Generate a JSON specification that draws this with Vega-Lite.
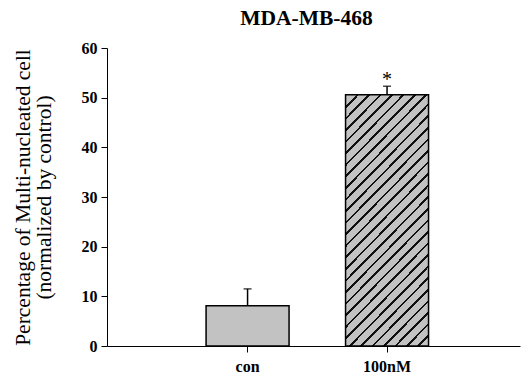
{
  "$schema": "https://vega.github.io/schema/vega-lite/v6.json",
  "width": 413,
  "height": 298,
  "autosize": {"type": "none"},
  "padding": {"left": 107, "top": 48, "right": 2, "bottom": 32},
  "background": "white",
  "title": {
    "text": "MDA-MB-468",
    "font": "Liberation Serif",
    "fontSize": 21.5,
    "fontWeight": "bold",
    "color": "black",
    "anchor": "middle",
    "dx": -7,
    "offset": 11
  },
  "data": {
    "values": [
      {"group": "con", "mean": 8.1, "upper": 11.5, "sig": ""},
      {"group": "100nM", "mean": 50.6, "upper": 52.3, "sig": "*"}
    ]
  },
  "config": {
    "view": {"stroke": null},
    "axis": {
      "domainColor": "black",
      "tickColor": "black",
      "labelColor": "black",
      "titleColor": "black",
      "grid": false
    }
  },
  "encoding": {
    "x": {
      "field": "group",
      "type": "nominal",
      "sort": ["con", "100nM"],
      "scale": {"paddingInner": 0.405, "paddingOuter": 0.683, "align": 0.52},
      "axis": {
        "title": null,
        "labelAngle": 0,
        "tickSize": 6,
        "labelPadding": 6,
        "domainWidth": 1,
        "labelFont": "Liberation Serif",
        "labelFontWeight": "bold",
        "labelFontSize": 16
      }
    }
  },
  "layer": [
    {
      "transform": [{"filter": "datum.group === 'con'"}],
      "mark": {"type": "bar", "fill": "#c2c2c2", "stroke": "black", "strokeWidth": 1.5},
      "encoding": {
        "y": {
          "field": "mean",
          "type": "quantitative",
          "scale": {"domain": [0, 60], "nice": false},
          "axis": {
            "title": ["Percentage of Multi-nucleated cell", "(normalized by control)"],
            "titleFont": "Liberation Serif",
            "titleFontWeight": "normal",
            "titleFontSize": 21.5,
            "titleLineHeight": 21,
            "titlePadding": 26,
            "values": [0, 10, 20, 30, 40, 50, 60],
            "tickSize": 6,
            "labelPadding": 4,
            "labelFont": "Liberation Serif",
            "labelFontWeight": "bold",
            "labelFontSize": 16
          }
        }
      }
    },
    {
      "transform": [{"filter": "datum.group === '100nM'"}],
      "mark": {
        "type": "bar",
        "stroke": "black",
        "strokeWidth": 1.5,
        "fill": {
          "gradient": "linear",
          "x1": 0, "y1": 0, "x2": 0.402, "y2": 1.2,
          "stops": [
            {"offset": 0, "color": "#c2c2c2"},
            {"offset": 0.0335, "color": "#c2c2c2"}, {"offset": 0.0335, "color": "#111111"}, {"offset": 0.0415, "color": "#111111"}, {"offset": 0.0415, "color": "#c2c2c2"},
            {"offset": 0.068, "color": "#c2c2c2"}, {"offset": 0.068, "color": "#111111"}, {"offset": 0.076, "color": "#111111"}, {"offset": 0.076, "color": "#c2c2c2"},
            {"offset": 0.1025, "color": "#c2c2c2"}, {"offset": 0.1025, "color": "#111111"}, {"offset": 0.1105, "color": "#111111"}, {"offset": 0.1105, "color": "#c2c2c2"},
            {"offset": 0.137, "color": "#c2c2c2"}, {"offset": 0.137, "color": "#111111"}, {"offset": 0.145, "color": "#111111"}, {"offset": 0.145, "color": "#c2c2c2"},
            {"offset": 0.1715, "color": "#c2c2c2"}, {"offset": 0.1715, "color": "#111111"}, {"offset": 0.1795, "color": "#111111"}, {"offset": 0.1795, "color": "#c2c2c2"},
            {"offset": 0.206, "color": "#c2c2c2"}, {"offset": 0.206, "color": "#111111"}, {"offset": 0.214, "color": "#111111"}, {"offset": 0.214, "color": "#c2c2c2"},
            {"offset": 0.2405, "color": "#c2c2c2"}, {"offset": 0.2405, "color": "#111111"}, {"offset": 0.2485, "color": "#111111"}, {"offset": 0.2485, "color": "#c2c2c2"},
            {"offset": 0.275, "color": "#c2c2c2"}, {"offset": 0.275, "color": "#111111"}, {"offset": 0.283, "color": "#111111"}, {"offset": 0.283, "color": "#c2c2c2"},
            {"offset": 0.3095, "color": "#c2c2c2"}, {"offset": 0.3095, "color": "#111111"}, {"offset": 0.3175, "color": "#111111"}, {"offset": 0.3175, "color": "#c2c2c2"},
            {"offset": 0.344, "color": "#c2c2c2"}, {"offset": 0.344, "color": "#111111"}, {"offset": 0.352, "color": "#111111"}, {"offset": 0.352, "color": "#c2c2c2"},
            {"offset": 0.3785, "color": "#c2c2c2"}, {"offset": 0.3785, "color": "#111111"}, {"offset": 0.3865, "color": "#111111"}, {"offset": 0.3865, "color": "#c2c2c2"},
            {"offset": 0.413, "color": "#c2c2c2"}, {"offset": 0.413, "color": "#111111"}, {"offset": 0.421, "color": "#111111"}, {"offset": 0.421, "color": "#c2c2c2"},
            {"offset": 0.4475, "color": "#c2c2c2"}, {"offset": 0.4475, "color": "#111111"}, {"offset": 0.4555, "color": "#111111"}, {"offset": 0.4555, "color": "#c2c2c2"},
            {"offset": 0.482, "color": "#c2c2c2"}, {"offset": 0.482, "color": "#111111"}, {"offset": 0.49, "color": "#111111"}, {"offset": 0.49, "color": "#c2c2c2"},
            {"offset": 0.5165, "color": "#c2c2c2"}, {"offset": 0.5165, "color": "#111111"}, {"offset": 0.5245, "color": "#111111"}, {"offset": 0.5245, "color": "#c2c2c2"},
            {"offset": 0.551, "color": "#c2c2c2"}, {"offset": 0.551, "color": "#111111"}, {"offset": 0.559, "color": "#111111"}, {"offset": 0.559, "color": "#c2c2c2"},
            {"offset": 0.5855, "color": "#c2c2c2"}, {"offset": 0.5855, "color": "#111111"}, {"offset": 0.5935, "color": "#111111"}, {"offset": 0.5935, "color": "#c2c2c2"},
            {"offset": 0.62, "color": "#c2c2c2"}, {"offset": 0.62, "color": "#111111"}, {"offset": 0.628, "color": "#111111"}, {"offset": 0.628, "color": "#c2c2c2"},
            {"offset": 0.6545, "color": "#c2c2c2"}, {"offset": 0.6545, "color": "#111111"}, {"offset": 0.6625, "color": "#111111"}, {"offset": 0.6625, "color": "#c2c2c2"},
            {"offset": 0.689, "color": "#c2c2c2"}, {"offset": 0.689, "color": "#111111"}, {"offset": 0.697, "color": "#111111"}, {"offset": 0.697, "color": "#c2c2c2"},
            {"offset": 0.7235, "color": "#c2c2c2"}, {"offset": 0.7235, "color": "#111111"}, {"offset": 0.7315, "color": "#111111"}, {"offset": 0.7315, "color": "#c2c2c2"},
            {"offset": 0.758, "color": "#c2c2c2"}, {"offset": 0.758, "color": "#111111"}, {"offset": 0.766, "color": "#111111"}, {"offset": 0.766, "color": "#c2c2c2"},
            {"offset": 0.7925, "color": "#c2c2c2"}, {"offset": 0.7925, "color": "#111111"}, {"offset": 0.8005, "color": "#111111"}, {"offset": 0.8005, "color": "#c2c2c2"},
            {"offset": 0.827, "color": "#c2c2c2"}, {"offset": 0.827, "color": "#111111"}, {"offset": 0.835, "color": "#111111"}, {"offset": 0.835, "color": "#c2c2c2"},
            {"offset": 0.8615, "color": "#c2c2c2"}, {"offset": 0.8615, "color": "#111111"}, {"offset": 0.8695, "color": "#111111"}, {"offset": 0.8695, "color": "#c2c2c2"},
            {"offset": 0.896, "color": "#c2c2c2"}, {"offset": 0.896, "color": "#111111"}, {"offset": 0.904, "color": "#111111"}, {"offset": 0.904, "color": "#c2c2c2"},
            {"offset": 0.9305, "color": "#c2c2c2"}, {"offset": 0.9305, "color": "#111111"}, {"offset": 0.9385, "color": "#111111"}, {"offset": 0.9385, "color": "#c2c2c2"},
            {"offset": 0.965, "color": "#c2c2c2"}, {"offset": 0.965, "color": "#111111"}, {"offset": 0.973, "color": "#111111"}, {"offset": 0.973, "color": "#c2c2c2"},
            {"offset": 1, "color": "#c2c2c2"}
          ]
        }
      },
      "encoding": {
        "y": {"field": "mean", "type": "quantitative"}
      }
    },
    {
      "mark": {"type": "rule", "color": "black", "strokeWidth": 1.5},
      "encoding": {
        "y": {"field": "mean", "type": "quantitative"},
        "y2": {"field": "upper"}
      }
    },
    {
      "mark": {"type": "tick", "color": "black", "thickness": 1.5, "size": 8},
      "encoding": {
        "y": {"field": "upper", "type": "quantitative"}
      }
    },
    {
      "mark": {"type": "text", "font": "Liberation Serif", "fontSize": 20, "color": "black", "baseline": "bottom", "dy": 4},
      "encoding": {
        "y": {"field": "upper", "type": "quantitative"},
        "text": {"field": "sig"}
      }
    }
  ]
}
